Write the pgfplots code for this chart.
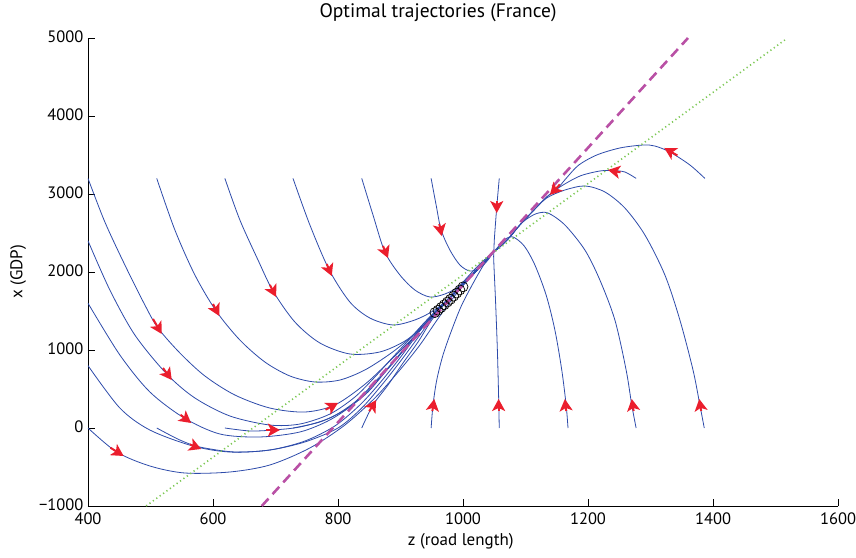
\documentclass[border=0pt]{standalone}
\usepackage{fontspec}
\setmainfont{PT Sans}
\usepackage{pgfplots}
\pgfplotsset{compat=1.18}
\usetikzlibrary{arrows.meta}

\definecolor{traj}{RGB}{45,75,170}
\definecolor{arr}{RGB}{235,30,45}
\definecolor{mag}{RGB}{185,80,165}
\definecolor{grn}{RGB}{125,200,85}

\pgfplotsset{
  traj/.style={color=traj, line width=0.8pt, smooth, tension=0.5, no markers},
  dir/.style={color=arr, line width=2pt, no markers,
    -{Stealth[length=12pt,width=13pt,inset=3pt]}},
}

\begin{document}
\begin{tikzpicture}
\begin{axis}[
    name=ax,
    scale only axis,
    width=750pt, height=468pt,
    xmin=400, xmax=1600, ymin=-1000, ymax=5000,
    xtick={400,600,...,1600},
    ytick={-1000,0,...,5000},
    xticklabels={400,600,800,1000,1200,1400,1600},
    yticklabels={−1000,0,1000,2000,3000,4000,5000},
    axis lines*=left,
    axis line style={line width=0.8pt},
    tick align=inside,
    major tick length=7pt,
    tick style={line width=0.8pt, black},
    tick label style={font=\fontsize{16.5}{20}\selectfont},
    xticklabel style={yshift=-3pt},
    yticklabel style={xshift=-1pt, yshift=1.5pt},
    label style={font=\fontsize{17}{20}\selectfont},
    title style={font=\fontsize{19.5}{23}\selectfont, at={(axis description cs:0.4667,1.042)}, anchor=center},
    xlabel style={at={(axis description cs:0.497,-0.075)}, anchor=center},
    ylabel style={at={(axis description cs:-0.093,0.5)}, anchor=center},
    title={Optimal trajectories (France)},
    xlabel={z (road length)},
    ylabel={x (GDP)},
]

% trajectories from the left edge
\addplot[traj] coordinates {(400,3200)(427,2641)(459,2090)(491,1577)(512,1282)(547,962)(587,667)(635,423)(691,256)(747,205)(795,295)(843,560)(883,860)(915,1115)(947,1400)(979,1680)(1011,1950)(1035,2128)(1048,2250)};
\addplot[traj] coordinates {(400,2400)(435,1769)(475,1192)(526,692)(571,385)(627,154)(691,38)(739,51)(787,179)(827,397)(859,654)(891,936)(931,1282)(958,1513)(998,1820)(1035,2128)(1048,2250)};
\addplot[traj] coordinates {(400,1600)(451,936)(499,462)(554,128)(611,-77)(675,-115)(739,-51)(787,103)(827,321)(864,615)(899,936)(931,1257)(958,1500)(998,1820)(1035,2128)(1048,2250)};
\addplot[traj] coordinates {(400,800)(451,256)(499,-26)(568,-231)(627,-308)(691,-282)(747,-167)(795,26)(835,295)(867,577)(899,897)(931,1244)(958,1500)(998,1820)(1035,2128)(1048,2250)};
\addplot[traj] coordinates {(400,0)(446,-308)(499,-487)(555,-577)(627,-564)(691,-474)(755,-256)(811,38)(859,385)(899,744)(931,1064)(963,1436)(998,1808)(1035,2128)(1048,2250)};

% trajectories from the bottom edge, left part
\addplot[traj] coordinates {(510,0)(547,-154)(579,-244)(635,-308)(691,-282)(747,-179)(800,0)(838,256)(870,551)(899,846)(931,1192)(958,1487)(998,1820)(1035,2128)(1048,2250)};
\addplot[traj] coordinates {(619,0)(659,-38)(696,-26)(739,13)(787,128)(827,333)(862,615)(894,897)(931,1257)(958,1500)(998,1820)(1035,2128)(1048,2250)};
\addplot[traj] coordinates {(728,0)(771,77)(811,231)(848,462)(883,795)(915,1102)(958,1500)(998,1820)(1035,2128)(1048,2250)};
\addplot[traj] coordinates {(838,0)(856,295)(880,551)(904,833)(928,1102)(950,1385)(976,1641)(1003,1897)(1027,2103)(1048,2250)};
\addplot[traj] coordinates {(949,0)(952,295)(958,615)(968,936)(982,1257)(998,1577)(1019,1897)(1035,2115)(1048,2250)};

% trajectories from the top edge
\addplot[traj] coordinates {(510,3200)(539,2539)(571,1962)(605,1500)(643,1128)(683,846)(723,667)(763,590)(803,615)(843,744)(883,949)(915,1154)(939,1359)(958,1513)(998,1820)(1035,2128)(1048,2250)};
\addplot[traj] coordinates {(619,3200)(643,2667)(672,2154)(696,1756)(731,1359)(771,1090)(819,949)(867,975)(907,1115)(939,1321)(963,1539)(998,1820)(1027,2077)(1048,2250)};
\addplot[traj] coordinates {(728,3200)(755,2603)(786,2026)(819,1615)(851,1410)(888,1321)(923,1385)(952,1500)(979,1667)(998,1820)(1027,2077)(1048,2250)};
\addplot[traj] coordinates {(838,3200)(856,2731)(875,2257)(899,1962)(923,1769)(947,1680)(971,1718)(995,1820)(1019,2000)(1035,2128)(1048,2250)};
\addplot[traj] coordinates {(949,3200)(957,2859)(965,2539)(979,2282)(995,2090)(1011,2013)(1027,2051)(1040,2154)(1048,2250)};
\addplot[traj] coordinates {(1058,3200)(1054,2833)(1050,2400)(1049,2200)(1052,1641)(1055,1000)(1057,400)(1058,0)};

% trajectories on the right
\addplot[traj] coordinates {(1168,0)(1165,295)(1158,744)(1147,1257)(1133,1705)(1115,2090)(1098,2333)(1080,2449)(1067,2420)(1057,2330)(1048,2250)};
\addplot[traj] coordinates {(1277,0)(1270,295)(1261,744)(1243,1385)(1219,1897)(1195,2282)(1163,2603)(1136,2756)(1118,2750)(1102,2680)(1091,2603)(1075,2449)(1059,2321)(1048,2250)};
\addplot[traj] coordinates {(1386,0)(1379,295)(1368,744)(1347,1385)(1323,1962)(1291,2475)(1259,2820)(1227,3026)(1195,3103)(1163,3051)(1134,2949)(1112,2782)(1091,2603)(1075,2449)(1059,2321)(1048,2250)};
\addplot[traj] coordinates {(1277,3200)(1259,3282)(1240,3300)(1219,3295)(1187,3230)(1155,3090)(1134,2962)(1112,2782)(1091,2603)(1075,2449)(1059,2321)(1048,2250)};
\addplot[traj] coordinates {(1387,3200)(1363,3372)(1331,3538)(1307,3615)(1288,3628)(1251,3590)(1214,3500)(1185,3370)(1165,3200)(1150,3060)(1134,2962)(1112,2782)(1091,2603)(1075,2449)(1059,2321)(1048,2250)};

% isoclines
\addplot[grn, line width=1.6pt, dash pattern=on 1.2pt off 3pt] coordinates {(493,-1000)(1515,4975)};
\addplot[mag, line width=2.6pt, dash pattern=on 10pt off 6pt] coordinates {(678,-1000)(1360,5000)};

% direction arrows
\addplot[dir] coordinates {(436,-253)(457,-359)};
\addplot[dir] coordinates {(504,1398)(518,1205)};
\addplot[dir] coordinates {(520,769)(534,615)};
\addplot[dir] coordinates {(548,170)(565,64)};
\addplot[dir] coordinates {(563,-211)(581,-269)};
\addplot[dir] coordinates {(600,1590)(610,1436)};
\addplot[dir] coordinates {(691,1834)(701,1680)};
\addplot[dir] coordinates {(685,-26)(707,-26)};
\addplot[dir] coordinates {(780,234)(800,321)};
\addplot[dir] coordinates {(782,2103)(790,1949)};
\addplot[dir] coordinates {(872,2334)(880,2179)};
\addplot[dir] coordinates {(962,2616)(966,2461)};
\addplot[dir] coordinates {(1054,2911)(1054,2756)};
\addplot[dir] coordinates {(850,215)(861,359)};
\addplot[dir] coordinates {(951,218)(954,372)};
\addplot[dir] coordinates {(1057,218)(1057,372)};
\addplot[dir] coordinates {(1165,218)(1163,372)};
\addplot[dir] coordinates {(1273,218)(1270,372)};
\addplot[dir] coordinates {(1381,218)(1378,372)};
\addplot[dir] coordinates {(1155,3122)(1139,2988)};
\addplot[dir] coordinates {(1252,3278)(1232,3308)};
\addplot[dir] coordinates {(1343,3494)(1322,3590)};

% observed points
\addplot[only marks, mark=o, mark size=5pt, mark options={black, line width=0.7pt}] coordinates {
(955,1480)(960,1510)(965,1545)(970,1580)(975,1615)(980,1650)(985,1690)(990,1730)(995,1770)(1000,1810)};

\end{axis}
\pgfresetboundingbox
\path[use as bounding box] ([shift={(-88pt,-51pt)}]ax.south west) rectangle ([shift={(18pt,38pt)}]ax.north east);
\end{tikzpicture}
\end{document}
